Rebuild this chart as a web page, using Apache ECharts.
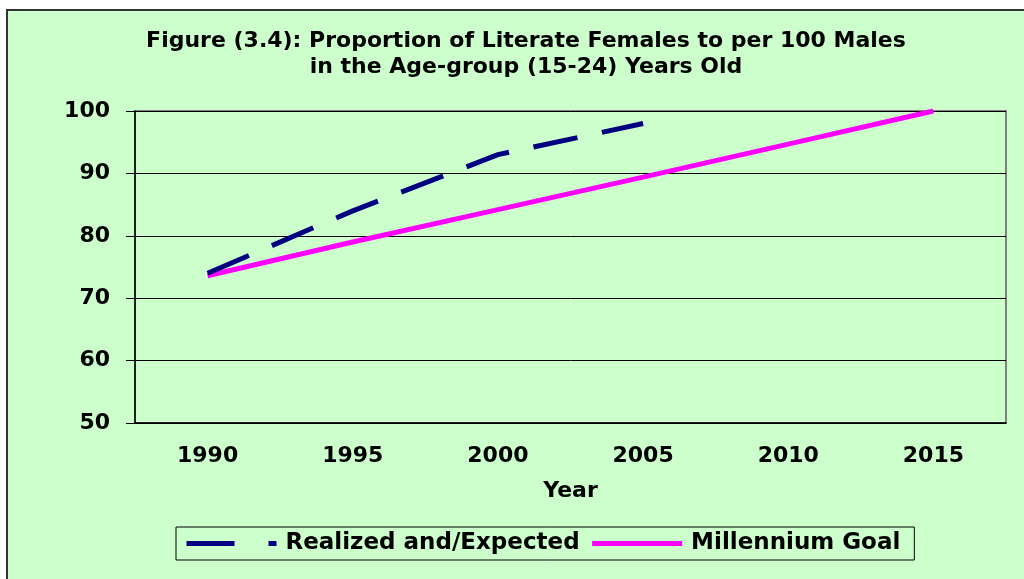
<!DOCTYPE html>
<html>
<head>
    <meta charset="UTF-8">
    <title>Literate Females per 100 Males</title>
    <style>
        html, body { margin: 0; padding: 0; background: #fff; }
        #main { width: 1024px; height: 579px; }
    </style>
</head>
<body>
    <div id="main"></div>
    <script src="https://cdn.jsdelivr.net/npm/echarts@6/dist/echarts.min.js"></script>
    <script>
    // data
    var years = ['1990', '1995', '2000', '2005', '2010', '2015'];
    var realized = [74, 84, 93, 98, null, null];
    var goal = [73.6, 79, 84.2, 89.4, 94.7, 100];

    var bold = { fontFamily: 'DejaVu Sans', fontWeight: 'bold', fontSize: 22, color: '#000' };

    var chart = echarts.init(document.getElementById('main'));
    var option = {
        backgroundColor: '#fff',
        animation: false,
        graphic: [{
            type: 'rect',
            shape: { x: 7, y: 10, width: 1030, height: 600 },
            style: { fill: '#CCFFCC', stroke: '#333', lineWidth: 2 },
            z: -10
        }],
        title: {
            text: 'Figure (3.4): Proportion of Literate Females to per 100 Males\nin the Age-group (15-24) Years Old',
            left: 521,
            textAlign: 'center',
            top: 23,
            textStyle: { fontFamily: 'DejaVu Sans', fontWeight: 'bold', fontSize: 22, lineHeight: 26, color: '#000' }
        },
        grid: {
            left: 135, right: 18, top: 111, bottom: 156,
            show: true, backgroundColor: '#CCFFCC', borderColor: '#808080', borderWidth: 2
        },
        legend: {
            left: 176, top: 527,
            padding: [5, 14, 5, 8],
            borderColor: '#000', borderWidth: 1,
            itemWidth: 90, itemHeight: 22, itemGap: 10,
            textStyle: Object.assign({}, bold, { fontSize: 23, padding: [0, 0, 0, 4] }),
            itemStyle: { opacity: 0 },
            data: [
                { name: 'Realized and/Expected', lineStyle: { width: 5, type: [48, 34] } },
                { name: 'Millennium Goal', lineStyle: { width: 5 } }
            ]
        },
        xAxis: {
            type: 'category',
            data: years,
            boundaryGap: true,
            name: 'Year',
            nameLocation: 'middle',
            nameGap: 57,
            nameTextStyle: bold,
            axisLine: { lineStyle: { color: '#000', width: 1.5 } },
            axisTick: { length: 8, lineStyle: { color: '#000' } },
            axisLabel: Object.assign({ margin: 22 }, bold)
        },
        yAxis: {
            type: 'value',
            min: 50, max: 100, interval: 10,
            axisLine: { show: true, lineStyle: { color: '#000', width: 1.5 } },
            axisTick: { show: true, length: 9, lineStyle: { color: '#000' } },
            axisLabel: Object.assign({ margin: 25 }, bold),
            splitLine: { lineStyle: { color: '#000', width: 1 } }
        },
        series: [
            {
                name: 'Realized and/Expected',
                type: 'line',
                data: realized,
                symbol: 'none',
                color: '#000080',
                lineStyle: { width: 5, type: [45, 25], color: '#000080' },
                z: 3
            },
            {
                name: 'Millennium Goal',
                type: 'line',
                data: goal,
                symbol: 'none',
                color: '#FF00FF',
                lineStyle: { width: 5, color: '#FF00FF' },
                z: 2
            }
        ]
    };
    chart.setOption(option);
    </script>
</body>
</html>
